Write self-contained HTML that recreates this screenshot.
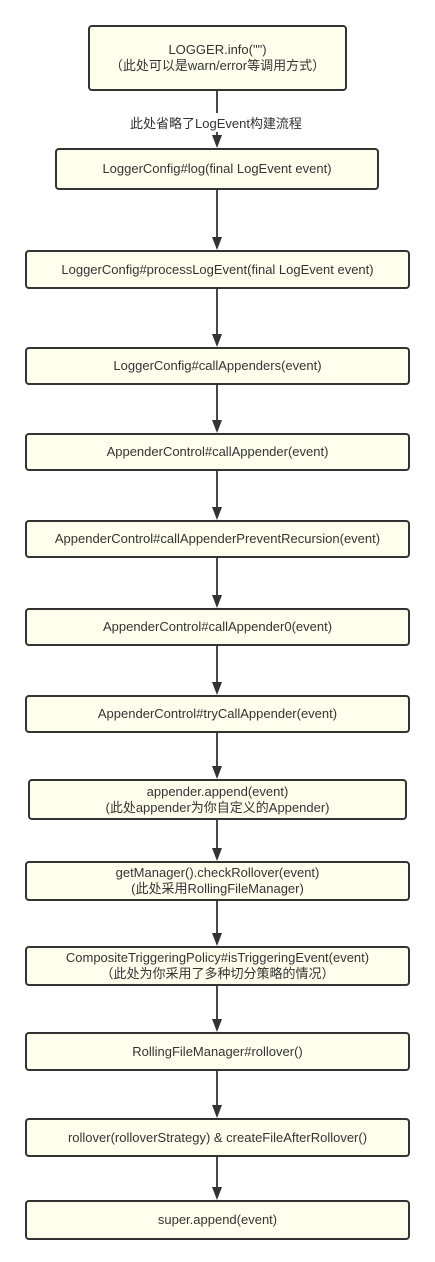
<!DOCTYPE html>
<html><head><meta charset="utf-8"><style>
body{margin:0;background:#fff;width:435px;height:1262px;position:relative;overflow:hidden;font-family:"Liberation Sans","Noto Sans CJK SC",sans-serif;}
.b{position:absolute;box-sizing:border-box;background:#ffffee;border:2px solid #333;border-radius:4px;display:flex;align-items:center;justify-content:center;text-align:center;font-size:13px;color:#333;line-height:16px;}
svg{position:absolute;left:0;top:0}
.l{position:absolute;font-size:13px;color:#333;background:#fff;}
</style></head><body>
<svg width="435" height="1262">
<g stroke="#333" stroke-width="1.8">
<line x1="217" y1="90" x2="217" y2="138"/>
<line x1="217" y1="190" x2="217" y2="240"/>
<line x1="217" y1="289" x2="217" y2="337"/>
<line x1="217" y1="384" x2="217" y2="423"/>
<line x1="217" y1="471" x2="217" y2="510"/>
<line x1="217" y1="558" x2="217" y2="598"/>
<line x1="217" y1="646" x2="217" y2="685"/>
<line x1="217" y1="733" x2="217" y2="769"/>
<line x1="217" y1="820" x2="217" y2="851"/>
<line x1="217" y1="900" x2="217" y2="936"/>
<line x1="217" y1="985" x2="217" y2="1022"/>
<line x1="217" y1="1071" x2="217" y2="1108"/>
<line x1="217" y1="1157" x2="217" y2="1190"/>
</g>
<g fill="#333">
<polygon points="212,135 222,135 217,148"/>
<polygon points="212,237 222,237 217,250"/>
<polygon points="212,334 222,334 217,347"/>
<polygon points="212,420 222,420 217,433"/>
<polygon points="212,507 222,507 217,520"/>
<polygon points="212,595 222,595 217,608"/>
<polygon points="212,682 222,682 217,695"/>
<polygon points="212,766 222,766 217,779"/>
<polygon points="212,848 222,848 217,861"/>
<polygon points="212,933 222,933 217,946"/>
<polygon points="212,1019 222,1019 217,1032"/>
<polygon points="212,1105 222,1105 217,1118"/>
<polygon points="212,1187 222,1187 217,1200"/>
</g>
</svg>
<div class="l" style="left:130px;top:113px;">此处省略了LogEvent构建流程</div>
<div class="b" style="left:88px;top:25px;width:259px;height:66px;">LOGGER.info("")<br>（此处可以是warn/error等调用方式）</div>
<div class="b" style="left:55px;top:148px;width:324px;height:42px;">LoggerConfig#log(final LogEvent event)</div>
<div class="b" style="left:25px;top:250px;width:385px;height:39px;">LoggerConfig#processLogEvent(final LogEvent event)</div>
<div class="b" style="left:25px;top:347px;width:385px;height:38px;">LoggerConfig#callAppenders(event)</div>
<div class="b" style="left:25px;top:433px;width:385px;height:38px;">AppenderControl#callAppender(event)</div>
<div class="b" style="left:25px;top:520px;width:385px;height:38px;">AppenderControl#callAppenderPreventRecursion(event)</div>
<div class="b" style="left:25px;top:608px;width:385px;height:38px;">AppenderControl#callAppender0(event)</div>
<div class="b" style="left:25px;top:695px;width:385px;height:38px;">AppenderControl#tryCallAppender(event)</div>
<div class="b" style="left:28px;top:779px;width:379px;height:41px;">appender.append(event)<br>(此处appender为你自定义的Appender)</div>
<div class="b" style="left:25px;top:861px;width:385px;height:40px;">getManager().checkRollover(event)<br>(此处采用RollingFileManager)</div>
<div class="b" style="left:25px;top:946px;width:385px;height:40px;">CompositeTriggeringPolicy#isTriggeringEvent(event)<br>（此处为你采用了多种切分策略的情况）</div>
<div class="b" style="left:25px;top:1032px;width:385px;height:39px;">RollingFileManager#rollover()</div>
<div class="b" style="left:25px;top:1118px;width:385px;height:39px;">rollover(rolloverStrategy) &amp; createFileAfterRollover()</div>
<div class="b" style="left:25px;top:1200px;width:385px;height:40px;">super.append(event)</div>
</body></html>
